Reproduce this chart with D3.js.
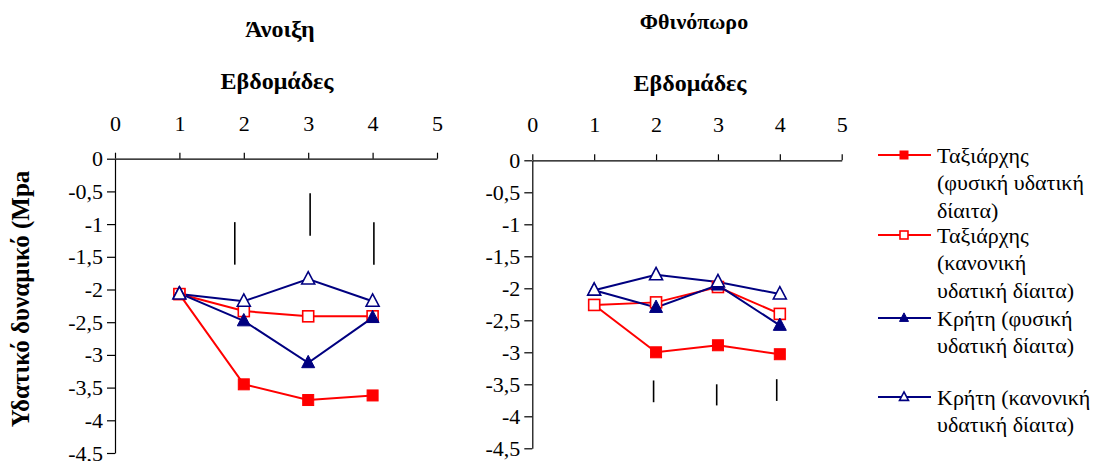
<!DOCTYPE html>
<html><head><meta charset="utf-8">
<script src="https://cdn.jsdelivr.net/npm/d3@7"></script>
<style>
body{margin:0;background:#fff;}
svg{display:block;}
svg text{font-family:"Liberation Serif","Tinos","Times New Roman","DejaVu Serif",serif !important;}
</style></head>
<body><svg id="c" width="1099" height="461"></svg>
<script>
// ---- data ----
const weeks = [1, 2, 3, 4];
const xTicks = [0, 1, 2, 3, 4, 5];
const yTicks = [0, -0.5, -1, -1.5, -2, -2.5, -3, -3.5, -4, -4.5];
const seriesNames = [
  ["Ταξιάρχης", "(φυσική υδατική", "δίαιτα)"],
  ["Ταξιάρχης", "(κανονική", "υδατική δίαιτα)"],
  ["Κρήτη (φυσική", "υδατική δίαιτα)"],
  ["Κρήτη (κανονική", "υδατική δίαιτα)"]
];
const springTaxFys = [-2.07, -3.45, -3.69, -3.62];
const springTaxKan = [-2.07, -2.33, -2.41, -2.41];
const springKriFys = [-2.06, -2.48, -3.12, -2.43];
const springKriKan = [-2.07, -2.18, -1.84, -2.18];
const autumnTaxFys = [-2.26, -3.00, -2.89, -3.03];
const autumnTaxKan = [-2.26, -2.22, -1.98, -2.40];
const autumnKriFys = [-2.03, -2.30, -1.95, -2.58];
const autumnKriKan = [-2.03, -1.79, -1.90, -2.09];
// vertical LSD bars: x position, top, bottom
const springBarX = [1.86, 3.03, 4.02];
const springBarTop = [-0.97, -0.53, -0.97];
const springBarBot = [-1.62, -1.18, -1.62];
const autumnBarX = [1.96, 2.98, 3.95];
const autumnBarTop = [-3.44, -3.50, -3.42];
const autumnBarBot = [-3.78, -3.83, -3.76];

const RED = "#ff0000", NAVY = "#000080";
const styles = [
  {color: RED, shape: "square", fill: true},
  {color: RED, shape: "square", fill: false},
  {color: NAVY, shape: "triangle", fill: true},
  {color: NAVY, shape: "triangle", fill: false}
];

const svg = d3.select("#c");
const fmt = d => d === 0 ? "0" : String(d).replace(".", ",");

function marker(g, shape, fill, color, cx, cy, s) {
  if (shape === "square") {
    g.append("rect").attr("x", cx - s/2).attr("y", cy - s/2).attr("width", s).attr("height", s)
      .attr("fill", fill ? color : "#fff").attr("stroke", color).attr("stroke-width", fill ? 1 : 1.6);
  } else {
    const h = s * 0.95;
    g.append("path").attr("d", `M${cx},${cy - h*0.6}L${cx + s/2},${cy + h*0.4}L${cx - s/2},${cy + h*0.4}Z`)
      .attr("fill", fill ? color : "#fff").attr("stroke", color).attr("stroke-width", fill ? 1 : 1.6);
  }
}

function panel(opts) {
  const x = d3.scaleLinear().domain([0, 5]).range(opts.xr);
  const y = d3.scaleLinear().domain([0, -4.5]).range(opts.yr);
  const g = svg.append("g");

  g.append("text").attr("x", opts.titleX).attr("y", opts.titleY).attr("text-anchor", "middle")
    .attr("font-weight", "bold").attr("font-size", opts.titleSize).text(opts.title);
  g.append("text").attr("x", opts.subX).attr("y", opts.subY).attr("text-anchor", "middle")
    .attr("font-weight", "bold").attr("font-size", 24).text("Εβδομάδες");

  const xa = g.append("g").attr("transform", `translate(0,${opts.yr[0]})`)
    .call(d3.axisTop(x).tickValues(xTicks).tickFormat(d3.format("d")).tickSize(6).tickSizeOuter(0).tickPadding(22));
  const ya = g.append("g").attr("transform", `translate(${opts.xr[0]},0)`)
    .call(d3.axisLeft(y).tickValues(yTicks).tickFormat(fmt).tickSize(8).tickSizeOuter(0).tickPadding(4));
  [xa, ya].forEach(a => {
    a.attr("font-family", null);
    a.selectAll("path,line").attr("stroke", "#000").attr("stroke-width", 1.2);
    a.selectAll("text").attr("font-size", 22).attr("fill", "#000");
  });

  // LSD bars
  opts.barX.forEach((bx, i) => {
    g.append("line").attr("x1", x(bx)).attr("x2", x(bx))
      .attr("y1", y(opts.barTop[i])).attr("y2", y(opts.barBot[i]))
      .attr("stroke", "#000").attr("stroke-width", 1.6);
  });

  const line = d3.line().x((d, i) => x(weeks[i])).y(d => y(d));
  opts.series.forEach((vals, si) => {
    const st = styles[si];
    g.append("path").attr("d", line(vals)).attr("fill", "none")
      .attr("stroke", st.color).attr("stroke-width", 2);
  });
  opts.series.forEach((vals, si) => {
    const st = styles[si];
    vals.forEach((v, i) => marker(g, st.shape, st.fill, st.color, x(weeks[i]), y(v), st.shape === "square" ? 11 : 13));
  });
}

panel({xr: [115, 437], yr: [158.7, 453], title: "Άνοιξη", titleSize: 24, titleX: 280, titleY: 37, subX: 277, subY: 89,
  series: [springTaxFys, springTaxKan, springKriFys, springKriKan],
  barX: springBarX, barTop: springBarTop, barBot: springBarBot});
panel({xr: [532.3, 841.7], yr: [160.3, 448.3], title: "Φθινόπωρο", titleSize: 22, titleX: 694, titleY: 29, subX: 690, subY: 91,
  series: [autumnTaxFys, autumnTaxKan, autumnKriFys, autumnKriKan],
  barX: autumnBarX, barTop: autumnBarTop, barBot: autumnBarBot});

// y axis title
svg.append("text").attr("transform", "translate(29,299) rotate(-90)").attr("text-anchor", "middle")
  .attr("font-weight", "bold").attr("font-size", 25).text("Υδατικό δυναμικό (Mpa");

// legend
const legY = [155, 235, 318, 397];
const lg = svg.append("g");
seriesNames.forEach((lines, i) => {
  const st = styles[i];
  lg.append("line").attr("x1", 878).attr("x2", 931).attr("y1", legY[i]).attr("y2", legY[i])
    .attr("stroke", st.color).attr("stroke-width", 2);
  marker(lg, st.shape, st.fill, st.color, 904, legY[i], st.shape === "square" ? 8 : 9);
  lines.forEach((t, j) => {
    lg.append("text").attr("x", 937).attr("y", legY[i] + j * 27.5).attr("dy", "0.35em")
      .attr("font-size", 22).text(t);
  });
});
</script></body></html>
